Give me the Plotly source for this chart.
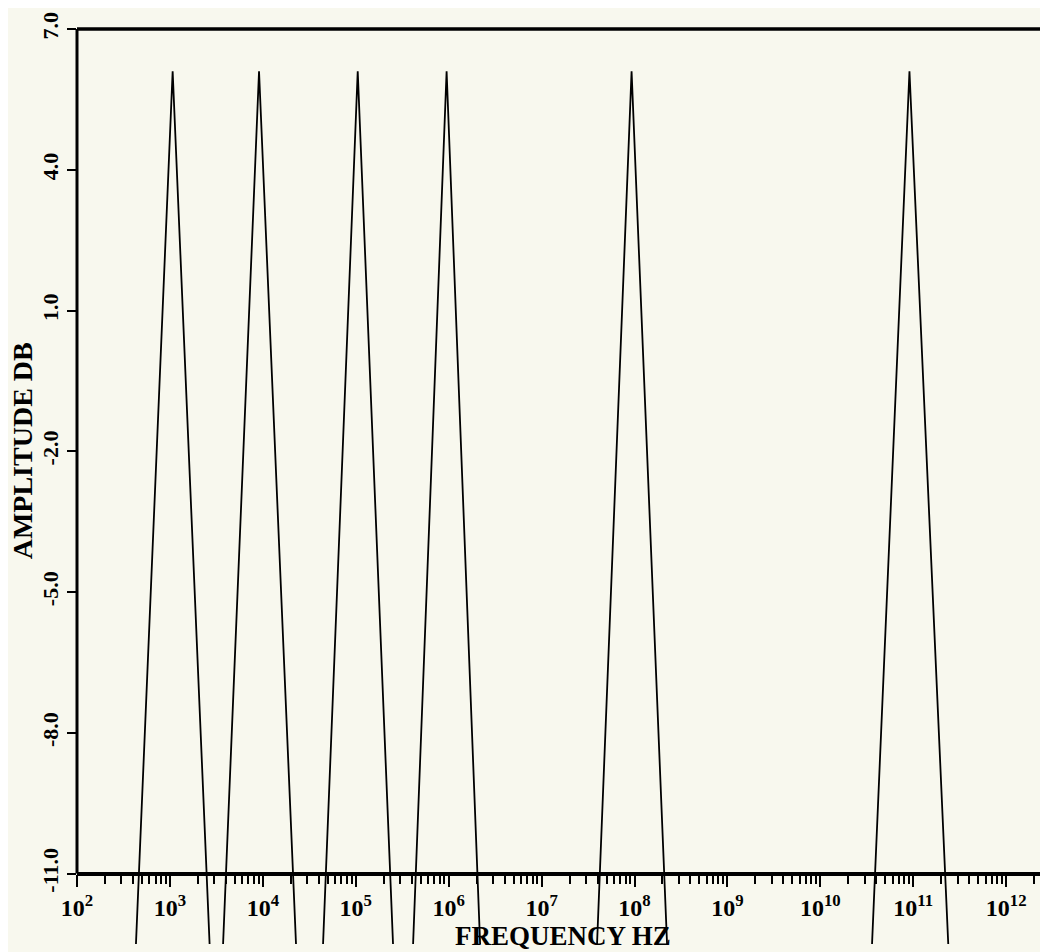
import plotly.graph_objects as go

# ---- data ----
peak_center_hz = [1.07e3, 9.1e3, 1.05e5, 9.5e5, 9.3e7, 9.1e10]
peak_low_hz = [431, 3733, 44460, 4.14e5, 3.95e7, 3.6e10]
peak_high_hz = [2673, 22750, 2.518e5, 2.18e6, 2.24e8, 2.38e11]
peak_db = [6.1, 6.1, 6.1, 6.1, 6.1, 6.1]
edge_db = [-12.5, -12.5, -12.5, -12.5, -12.5, -12.5]

x_tickvals = [1e2, 1e3, 1e4, 1e5, 1e6, 1e7, 1e8, 1e9, 1e10, 1e11, 1e12]
x_ticktext = ["10<sup>2</sup>", "10<sup>3</sup>", "10<sup>4</sup>", "10<sup>5</sup>",
              "10<sup>6</sup>", "10<sup>7</sup>", "10<sup>8</sup>", "10<sup>9</sup>",
              "10<sup>10</sup>", "10<sup>11</sup>", "10<sup>12</sup>"]
y_tickvals = [-11, -8, -5, -2, 1, 4, 7]
y_ticktext = ["-11.0", "-8.0", "-5.0", "-2.0", "1.0", "4.0", "7.0"]

Y_MIN, Y_MAX = -12.5, 7.0
AXIS_Y = -11.0
axis_frac = (AXIS_Y - Y_MIN) / (Y_MAX - Y_MIN)

BG = "#f8f8ee"
FONT = "Liberation Serif"
PLOT_W = 971
PLOT_H = 915

fig = go.Figure()
for lo, c, hi, p, e in zip(peak_low_hz, peak_center_hz, peak_high_hz, peak_db, edge_db):
    fig.add_trace(go.Scatter(
        x=[lo, c, hi], y=[e, p, e], mode="lines",
        line=dict(color="black", width=1.8),
        showlegend=False, hoverinfo="skip",
    ))

fig.update_layout(
    width=1048, height=952,
    margin=dict(l=69, r=8, t=21, b=16),
    paper_bgcolor=BG, plot_bgcolor=BG,
    showlegend=False,
    xaxis=dict(
        type="log", range=[2, 12.45],
        anchor="free", position=axis_frac,
        showline=True, linecolor="black", linewidth=3.5,
        showgrid=False, zeroline=False,
        tickmode="array", tickvals=x_tickvals, ticktext=x_ticktext,
        ticks="outside", ticklen=12, tickwidth=2, tickcolor="black",
        minor=dict(ticks="outside", ticklen=9, tickwidth=1.5, tickcolor="black", dtick="D1", showgrid=False),
        tickfont=dict(family=FONT, size=24, color="black", weight="bold"),
        ticklabelstandoff=0,
        automargin=False,
    ),
    yaxis=dict(
        range=[Y_MIN, Y_MAX],
        showline=False, showgrid=False, zeroline=False,
        tickmode="array", tickvals=y_tickvals, ticktext=y_ticktext,
        tickangle=-90,
        ticks="outside", ticklen=9, tickwidth=2, tickcolor="black",
        tickfont=dict(family=FONT, size=22, color="black", weight="bold"),
        ticklabelstandoff=0,
        automargin=False,
    ),
    shapes=[
        dict(type="line", xref="paper", yref="paper", x0=0, x1=0, y0=axis_frac, y1=1,
             line=dict(color="black", width=3)),
        dict(type="line", xref="paper", yref="paper", x0=0, x1=1, y0=1, y1=1,
             line=dict(color="black", width=3.5)),
    ],
    annotations=[
        dict(text="AMPLITUDE DB", xref="paper", yref="y", x=-55 / PLOT_W, y=-2,
             xanchor="center", yanchor="middle", textangle=-90, showarrow=False,
             font=dict(family=FONT, size=28, color="black", weight="bold")),
        dict(text="FREQUENCY HZ", xref="paper", yref="paper", x=0.5, y=8 / PLOT_H,
             xanchor="center", yanchor="middle", showarrow=False,
             font=dict(family=FONT, size=27, color="black", weight="bold")),
    ],
)

fig.write_html("out.html")
